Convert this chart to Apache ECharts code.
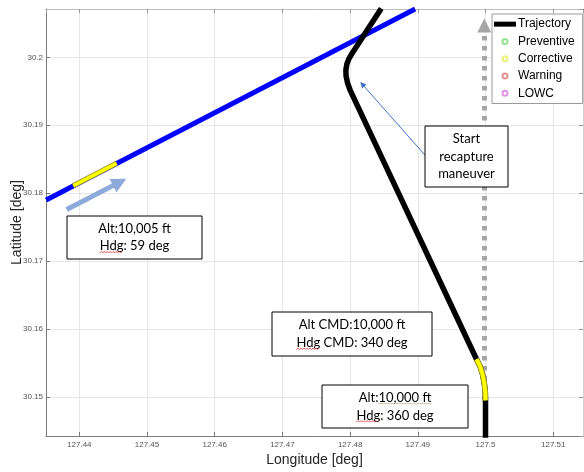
<!DOCTYPE html>
<html><head><meta charset="utf-8">
<script src="https://cdn.jsdelivr.net/npm/echarts@6/dist/echarts.min.js"></script>
<style>html,body{margin:0;padding:0;background:#fff}#c{width:584px;height:472px}</style>
</head><body><div id="c"></div>
<script>
// Axis extents
const lonRange = [127.43508, 127.5144];
const latRange = [30.14426, 30.20711];

// Own trajectory (bottom to top)
const trajLon = [127.5, 127.5, 127.49997, 127.49982, 127.49956, 127.49919, 127.49867,
  127.4800, 127.47962, 127.4794, 127.47937, 127.47952, 127.47984, 127.48028, 127.4846];
const trajLat = [30.1440, 30.1495, 30.1507, 30.1520, 30.15335, 30.15453, 30.15556,
  30.19518, 30.19621, 30.19725, 30.19813, 30.19901, 30.19982, 30.20056, 30.2072];
// Corrective alert segment on own trajectory
const trajCorrLon = [127.5, 127.49997, 127.49982, 127.49956, 127.49919, 127.49867];
const trajCorrLat = [30.1495, 30.1507, 30.1520, 30.15335, 30.15453, 30.15556];

// Intruder trajectory
const intrLon = [127.4351, 127.4896];
const intrLat = [30.1790, 30.2071];
const intrCorrLon = [127.4391, 127.4455];
const intrCorrLat = [30.1811, 30.1844];

// Annotation arrows (data coordinates)
const headingArrowLon = [127.49982, 127.49982];
const headingArrowLat = [30.1495, 30.20468];
const intrArrowLon = [127.43814, 127.44597];
const intrArrowLat = [30.17761, 30.18163];
const calloutLon = [127.49106, 127.4818];
const calloutLat = [30.18561, 30.19602];

// Alert series (empty in this plot)
const preventive = [], corrective = [], warning = [], lowc = [];
const legendNames = ['Trajectory', 'Preventive', 'Corrective', 'Warning', 'LOWC'];

const pts = (a, b) => a.map((v, i) => [v, b[i]]);
const tickFont = 'Liberation Sans';
const boxFont = '13px Lato';

const mctx = document.createElement('canvas').getContext('2d');
mctx.font = boxFont;
const tw = s => mctx.measureText(s).width;

function squiggle(x0, x1, y) {
  const p = [];
  for (let x = x0, k = 0; x <= x1; x += 1.5, k++) p.push([x, y + (k % 2 ? -0.8 : 0.8)]);
  return {type: 'polyline', z: 102, shape: {points: p},
          style: {stroke: '#e03a3a', lineWidth: 0.8, fill: null}};
}

// box: text lines centered; marks = [{line, prefix, word, kind}]
function box(x, y, w, h, lines, lh, marks) {
  const cx = x + w / 2, cy = y + h / 2;
  const children = [
    {type: 'rect', z: 100, shape: {x: x, y: y, width: w, height: h},
     style: {fill: '#fff', stroke: '#000', lineWidth: 1}},
    {type: 'text', z: 101, style: {text: lines.join('\n'), x: cx, y: cy,
      align: 'center', verticalAlign: 'middle', font: boxFont, fill: '#000', lineHeight: lh}}
  ];
  (marks || []).forEach(m => {
    const lineText = lines[m.line];
    const left = cx - tw(lineText) / 2 + tw(m.prefix);
    const right = left + tw(m.word);
    const lineCenter = cy - (lines.length - 1) * lh / 2 + m.line * lh;
    const uy = lineCenter + 6;
    if (m.kind === 'squiggle') children.push(squiggle(left, right, uy));
    else children.push({type: 'line', z: 102, shape: {x1: left, y1: uy, x2: right, y2: uy},
      style: {stroke: '#a08c5a', lineWidth: 1, lineDash: [1, 1]}});
  });
  return {type: 'group', z: 100, children: children};
}

const axisCommon = {
  type: 'value',
  splitLine: {show: true, lineStyle: {color: '#e6e6e6', width: 1}},
};

const chart = echarts.init(document.getElementById('c'), null, {renderer: 'canvas'});
chart.setOption({
  animation: false,
  backgroundColor: '#fff',
  grid: {left: 46, right: 1, top: 9, bottom: 36, containLabel: false, outerBoundsMode: 'none'},
  xAxis: [
    Object.assign({}, axisCommon, {
      min: lonRange[0], max: lonRange[1], splitNumber: 8, minInterval: 0.01, maxInterval: 0.01,
      position: 'bottom',
      axisLine: {show: true, lineStyle: {color: '#7a7a7a', width: 1}},
      axisTick: {show: true, inside: true, length: 4, lineStyle: {color: '#7a7a7a'}},
      axisLabel: {fontSize: 8, color: '#555', margin: 5, fontFamily: tickFont, showMinLabel: false, showMaxLabel: false},
      name: 'Longitude [deg]', nameLocation: 'middle', nameGap: 17, nameMoveOverlap: false,
      nameTextStyle: {fontSize: 14, color: '#262626', fontFamily: tickFont}
    }),
    Object.assign({}, axisCommon, {
      min: lonRange[0], max: lonRange[1], splitNumber: 8, minInterval: 0.01, maxInterval: 0.01,
      position: 'top', splitLine: {show: false},
      axisLine: {show: true, lineStyle: {color: '#bdbdbd', width: 1}},
      axisTick: {show: true, inside: true, length: 4, lineStyle: {color: '#9a9a9a'}},
      axisLabel: {show: false}
    })
  ],
  yAxis: [
    Object.assign({}, axisCommon, {
      min: latRange[0], max: latRange[1], splitNumber: 6, minInterval: 0.01, maxInterval: 0.01,
      position: 'left',
      axisLine: {show: true, lineStyle: {color: '#7a7a7a', width: 1}},
      axisTick: {show: true, inside: true, length: 4, lineStyle: {color: '#7a7a7a'}},
      axisLabel: {fontSize: 8, color: '#555', margin: 3, fontFamily: tickFont, showMinLabel: false, showMaxLabel: false},
      name: 'Latitude [deg]', nameLocation: 'middle', nameGap: 22, nameRotate: 90, nameMoveOverlap: false,
      nameTextStyle: {fontSize: 14, color: '#262626', fontFamily: tickFont}
    }),
    Object.assign({}, axisCommon, {
      min: latRange[0], max: latRange[1], splitNumber: 6, minInterval: 0.01, maxInterval: 0.01,
      position: 'right', splitLine: {show: false},
      axisLine: {show: true, lineStyle: {color: '#d0d0d0', width: 1}},
      axisTick: {show: true, inside: true, length: 4, lineStyle: {color: '#9a9a9a'}},
      axisLabel: {show: false}
    })
  ],
  legend: {
    orient: 'vertical', left: 492, top: 14,
    data: [{name: 'Trajectory', icon: 'rect'}, 'Preventive', 'Corrective', 'Warning', 'LOWC'],
    backgroundColor: '#fff', borderColor: '#9a9a9a', borderWidth: 1, borderRadius: 0,
    padding: [3, 8, 3, 2], itemWidth: 22, itemHeight: 5, itemGap: 3,
    selectedMode: false,
    textStyle: {fontSize: 12, fontFamily: tickFont, color: '#000', lineHeight: 14.3, padding: [0, 0, 0, -3]}
  },
  series: [
    {type: 'lines', coordinateSystem: 'cartesian2d', z: 2, silent: true,
     data: [{coords: pts(headingArrowLon, headingArrowLat)}],
     lineStyle: {color: '#a6a6a6', width: 5, type: [4.5, 5.5], opacity: 1, cap: 'butt'},
     symbol: ['none', 'triangle'], symbolSize: 14},
    {name: 'Intruder', type: 'line', z: 3, data: pts(intrLon, intrLat), symbol: 'none',
     lineStyle: {color: '#0000ff', width: 5, cap: 'butt'}},
    {name: 'IntrCorrEdge', type: 'line', z: 4, data: pts(intrCorrLon, intrCorrLat), symbol: 'none',
     lineStyle: {color: '#a8a820', width: 5, cap: 'butt'}},
    {name: 'IntrCorr', type: 'line', z: 5, data: pts(intrCorrLon, intrCorrLat), symbol: 'none',
     lineStyle: {color: '#ffff00', width: 3.4, cap: 'butt'}},
    {name: 'Trajectory', type: 'line', z: 4, data: pts(trajLon, trajLat), symbol: 'none',
     itemStyle: {color: '#000'},
     lineStyle: {color: '#000', width: 5.5, join: 'round', cap: 'butt'}},
    {name: 'TrajCorrEdge', type: 'line', z: 5, data: pts(trajCorrLon, trajCorrLat), symbol: 'none',
     lineStyle: {color: '#a8a820', width: 5.5, join: 'round', cap: 'butt'}},
    {name: 'TrajCorr', type: 'line', z: 6, data: pts(trajCorrLon, trajCorrLat), symbol: 'none',
     lineStyle: {color: '#ffff00', width: 3.8, join: 'round', cap: 'butt'}},
    {type: 'lines', coordinateSystem: 'cartesian2d', z: 7, silent: true,
     data: [{coords: pts(intrArrowLon, intrArrowLat)}],
     lineStyle: {color: '#8eaadb', width: 5, opacity: 1, cap: 'butt'},
     symbol: ['none', 'triangle'], symbolSize: 15},
    {type: 'lines', coordinateSystem: 'cartesian2d', z: 7, silent: true,
     data: [{coords: pts(calloutLon, calloutLat)}],
     lineStyle: {color: '#4472c4', width: 1, opacity: 1},
     symbol: ['none', 'triangle'], symbolSize: 6},
    {name: 'Preventive', type: 'scatter', data: preventive,
     itemStyle: {color: 'rgba(0,0,0,0)', borderColor: '#77dd77', borderWidth: 1}},
    {name: 'Corrective', type: 'scatter', data: corrective,
     itemStyle: {color: 'rgba(0,0,0,0)', borderColor: '#eaea55', borderWidth: 1}},
    {name: 'Warning', type: 'scatter', data: warning,
     itemStyle: {color: 'rgba(0,0,0,0)', borderColor: '#dd7777', borderWidth: 1}},
    {name: 'LOWC', type: 'scatter', data: lowc,
     itemStyle: {color: 'rgba(0,0,0,0)', borderColor: '#dd77dd', borderWidth: 1}}
  ],
  graphic: [
    box(67, 216, 135, 43, ['Alt:10,005 ft', 'Hdg: 59 deg'], 17.4,
        [{line: 1, prefix: '', word: 'Hdg', kind: 'squiggle'}]),
    box(272, 312, 160, 44, ['Alt CMD:10,000 ft', 'Hdg CMD: 340 deg'], 17.6,
        [{line: 1, prefix: '', word: 'Hdg', kind: 'squiggle'}]),
    box(322, 385, 146, 43, ['Alt:10,000 ft', 'Hdg: 360 deg'], 17.7,
        [{line: 0, prefix: 'Alt:', word: '10,000 ft', kind: 'dots'},
         {line: 1, prefix: '', word: 'Hdg', kind: 'squiggle'}]),
    box(425, 126, 83, 61, ['Start', 'recapture', 'maneuver'], 17.35)
  ]
});
</script>
</body></html>
